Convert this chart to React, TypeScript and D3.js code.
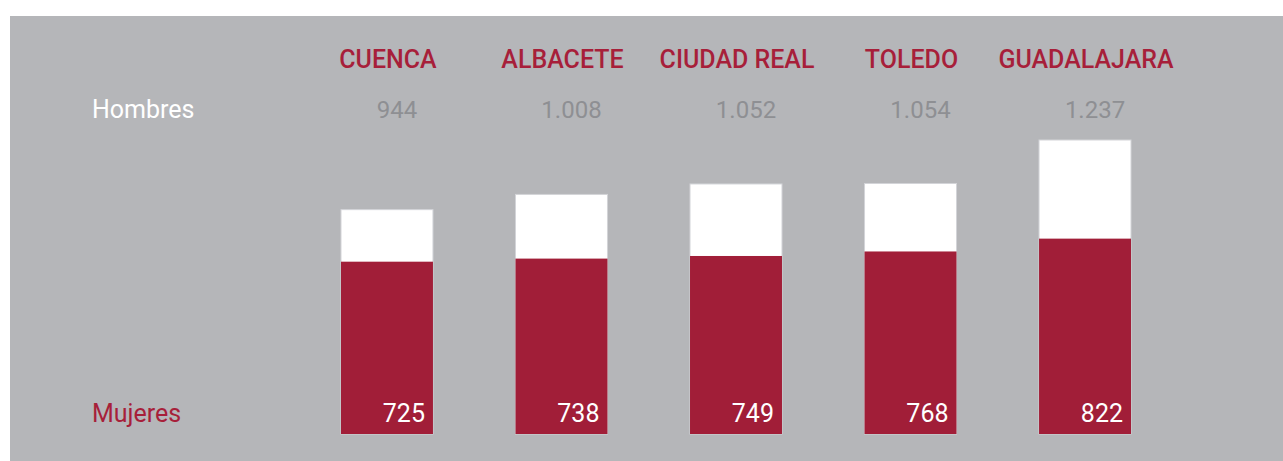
import React from "react";
import * as d3 from "d3";

const provincias = ["CUENCA", "ALBACETE", "CIUDAD REAL", "TOLEDO", "GUADALAJARA"];
const hombres = [944, 1008, 1052, 1054, 1237];
const mujeres = [725, 738, 749, 768, 822];
const hombresLabel = "Hombres";
const mujeresLabel = "Mujeres";

const W = 1283;
const H = 461;
const RED = "#a11e38";
const LABEL_RED = "#a71f3a";
const BG = "#b5b6b9";
const FONT = "Roboto, 'Liberation Sans', sans-serif";

const fmt = (v: number) => d3.format(",")(v).replace(/,/g, ".");

export default function App() {
  const x = d3
    .scaleBand<string>()
    .domain(provincias)
    .range([341, 1131])
    .paddingInner(0.473)
    .paddingOuter(0);
  const y = d3
    .scaleLinear()
    .domain([0, d3.max(hombres) as number])
    .range([434, 140]);
  const bw = x.bandwidth();

  return (
    <svg
      width={W}
      height={H}
      style={{ position: "absolute", left: 0, top: 0, display: "block" }}
      fontFamily={FONT}
    >
      <rect x={0} y={0} width={W} height={H} fill="#ffffff" />
      <rect x={10} y={16} width={W - 10} height={H - 16} fill={BG} />

      <text x={92} y={118} fill="#ffffff" fontSize={25}>
        {hombresLabel}
      </text>
      <text x={92} y={422} fill={LABEL_RED} fontSize={25}>
        {mujeresLabel}
      </text>

      {provincias.map((p, i) => {
        const x0 = x(p) as number;
        const cx = x0 + bw / 2;
        return (
          <g key={p}>
            <text
              x={cx + 1}
              y={68}
              textAnchor="middle"
              fill={LABEL_RED}
              fontSize={25}
              fontWeight={500}
            >
              {p}
            </text>
            <text
              x={cx + 10}
              y={118}
              textAnchor="middle"
              fill="#8e8f93"
              fontSize={24}
            >
              {fmt(hombres[i])}
            </text>
            <rect
              x={x0}
              y={y(hombres[i])}
              width={bw}
              height={y(0) - y(hombres[i])}
              fill="#ffffff"
              stroke="#d3d4d8"
              strokeWidth={1}
            />
            <rect
              x={x0}
              y={y(mujeres[i])}
              width={bw}
              height={y(0) - y(mujeres[i])}
              fill={RED}
            />
            <text
              x={x0 + bw - 8}
              y={422}
              textAnchor="end"
              fill="#ffffff"
              fontSize={25}
            >
              {fmt(mujeres[i])}
            </text>
          </g>
        );
      })}
    </svg>
  );
}
